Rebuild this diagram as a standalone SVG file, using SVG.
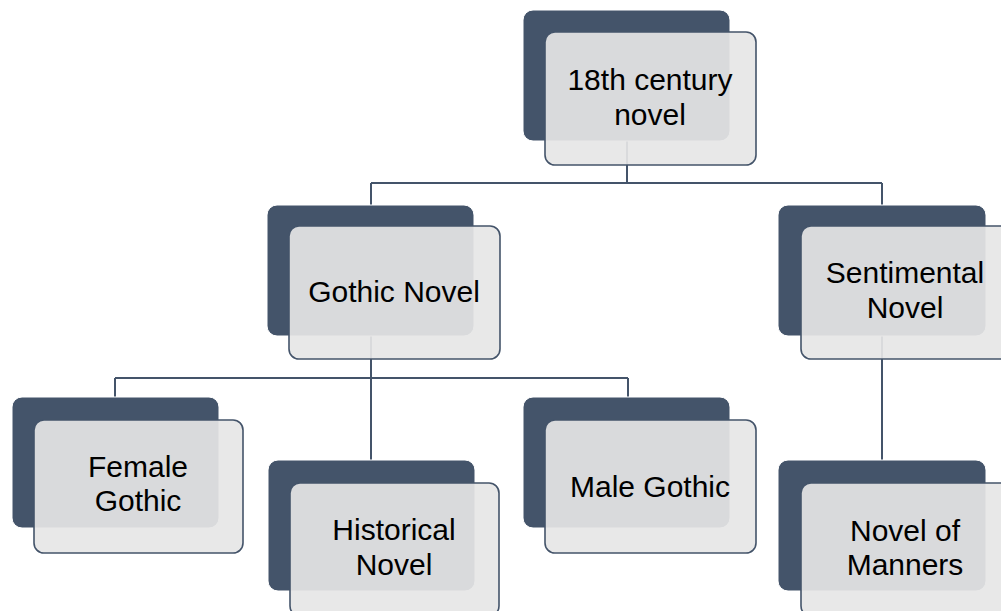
<svg xmlns="http://www.w3.org/2000/svg" width="1001" height="611" viewBox="0 0 1001 611">
<style>
.back{fill:#44546a;stroke:#ffffff;stroke-width:1}
.front{fill:#e6e6e6;fill-opacity:0.92;stroke:#44546a;stroke-width:1.6}
.lbl{font-family:"Liberation Sans",Arial,sans-serif;font-size:30px;fill:#000;text-anchor:middle}
.conn{fill:none;stroke:#44546a;stroke-width:2}
</style>
<rect width="1001" height="611" fill="#ffffff"/>
<g id="connectors">
<path class="conn" d="M627,141 V183 M371,183 H882 M371,183 V205 M882,183 V205"/>
<path class="conn" d="M371,336 V460 M115,378 H628 M115,378 V397 M628,378 V397"/>
<path class="conn" d="M882,336 V460"/>
</g>
<g id="n18th">
<rect class="back" x="523" y="10" width="207" height="131" rx="10"/>
<rect class="front" x="545" y="32" width="211" height="133" rx="10"/>
<text class="lbl" x="650" y="90">18th century</text>
<text class="lbl" x="650" y="125">novel</text>
</g>
<g id="gothic">
<rect class="back" x="267" y="205" width="207" height="131" rx="10"/>
<rect class="front" x="289" y="226" width="211" height="133" rx="10"/>
<text class="lbl" x="394" y="302">Gothic Novel</text>
</g>
<g id="sentimental">
<rect class="back" x="778" y="205" width="208" height="131" rx="10"/>
<rect class="front" x="801" y="226" width="211" height="133" rx="10"/>
<text class="lbl" x="905" y="283">Sentimental</text>
<text class="lbl" x="905" y="318">Novel</text>
</g>
<g id="female">
<rect class="back" x="12" y="397" width="207" height="131" rx="10"/>
<rect class="front" x="34" y="420" width="209" height="133" rx="10"/>
<text class="lbl" x="138" y="477">Female</text>
<text class="lbl" x="138" y="511">Gothic</text>
</g>
<g id="historical">
<rect class="back" x="268" y="460" width="207" height="131" rx="10"/>
<rect class="front" x="290" y="483" width="209" height="133" rx="10"/>
<text class="lbl" x="394" y="540">Historical</text>
<text class="lbl" x="394" y="575">Novel</text>
</g>
<g id="male">
<rect class="back" x="523" y="397" width="207" height="131" rx="10"/>
<rect class="front" x="545" y="420" width="211" height="133" rx="10"/>
<text class="lbl" x="650" y="497">Male Gothic</text>
</g>
<g id="manners">
<rect class="back" x="778" y="460" width="208" height="131" rx="10"/>
<rect class="front" x="801" y="483" width="211" height="133" rx="10"/>
<text class="lbl" x="905" y="541">Novel of</text>
<text class="lbl" x="905" y="575">Manners</text>
</g>
</svg>
